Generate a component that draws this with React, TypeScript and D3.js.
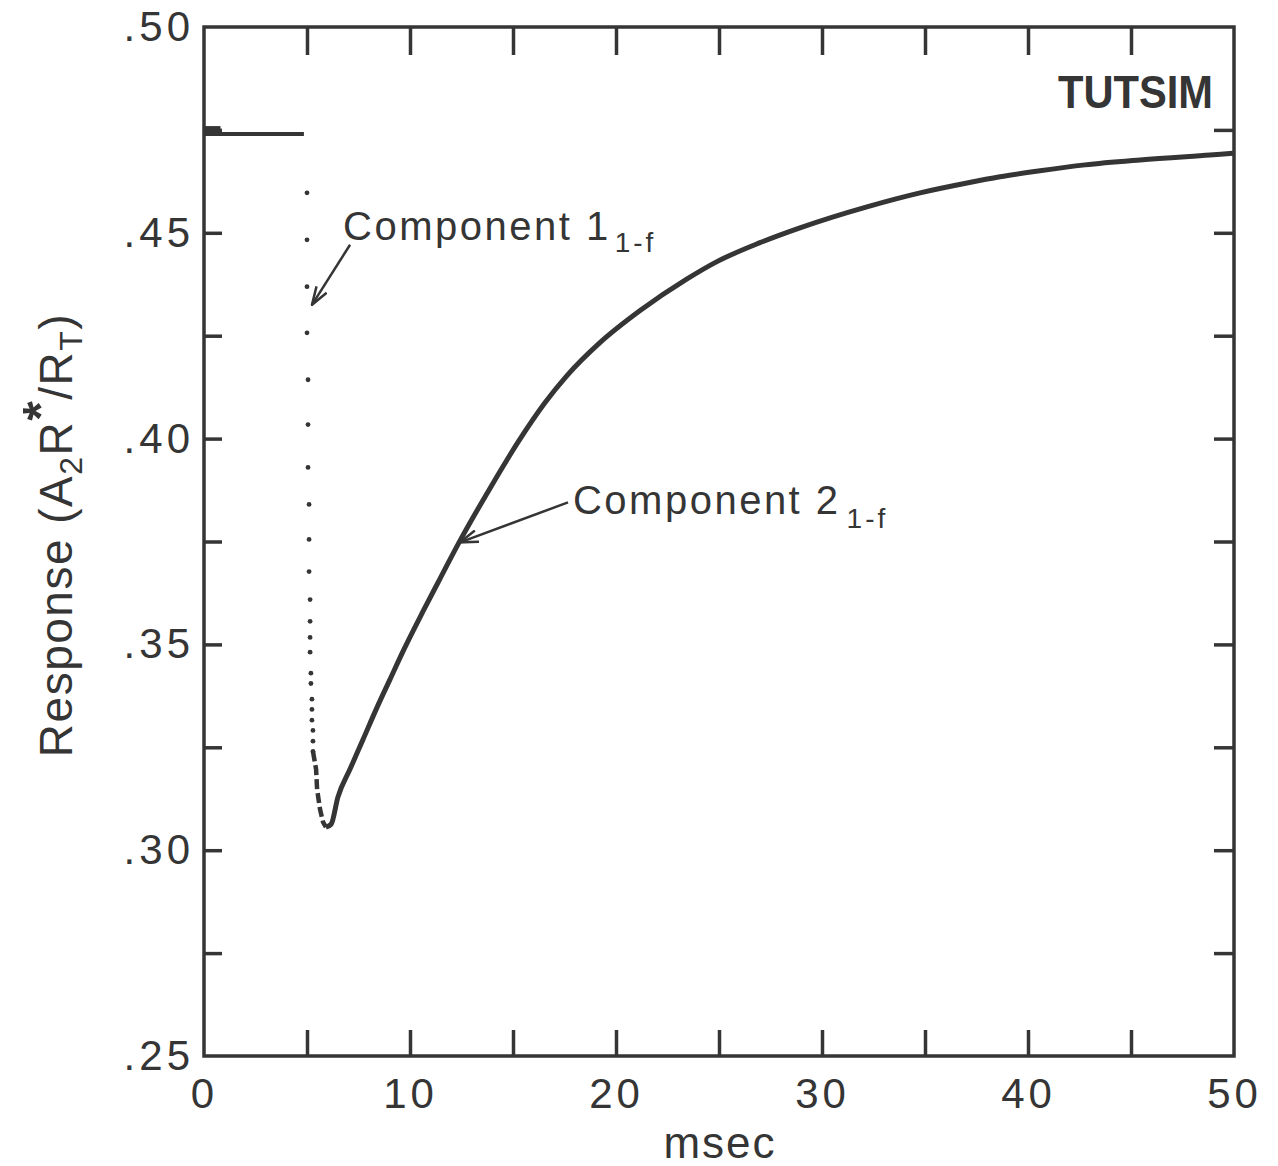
import React, { useEffect, useRef } from "react";
import * as d3 from "d3";

// page-sized chart, frame positioned like the scanned figure
const W = 1278;
const H = 1166;
const margin = { top: 27, right: 44, bottom: 110, left: 204 };

const INK = "#353535";
const FONT = "'Liberation Sans', Arial, sans-serif";

// axis ticks / labels
const xTicks = [5, 10, 15, 20, 25, 30, 35, 40, 45];
const xLabels = [0, 10, 20, 30, 40, 50];
const yTicks = [0.275, 0.3, 0.325, 0.35, 0.375, 0.4, 0.425, 0.45, 0.475];
const yLabels = [0.25, 0.3, 0.35, 0.4, 0.45, 0.5];

// steady state before the pulse
const baseline = [
  { t: 0, v: 0.474 },
  { t: 4.85, v: 0.474 },
];
const startBlip = [
  { t: 0, v: 0.4752 },
  { t: 0.8, v: 0.4752 },
];

// Component 1 (fast drop, plotted as dots)
const dropDots = [
  { t: 5.0, v: 0.4597 },
  { t: 5.0, v: 0.4483 },
  { t: 5.0, v: 0.4369 },
  { t: 5.0, v: 0.4257 },
  { t: 5.05, v: 0.4143 },
  { t: 5.05, v: 0.4034 },
  { t: 5.05, v: 0.393 },
  { t: 5.1, v: 0.384 },
  { t: 5.1, v: 0.3755 },
  { t: 5.1, v: 0.3677 },
  { t: 5.15, v: 0.3609 },
  { t: 5.15, v: 0.3556 },
  { t: 5.15, v: 0.3517 },
  { t: 5.15, v: 0.3481 },
  { t: 5.19, v: 0.343 },
  { t: 5.19, v: 0.3405 },
  { t: 5.24, v: 0.3367 },
  { t: 5.24, v: 0.3342 },
  { t: 5.24, v: 0.3316 },
  { t: 5.29, v: 0.3291 },
  { t: 5.29, v: 0.3265 },
  { t: 5.29, v: 0.324 },
];

// bottom of the dip (dashed)
const dipDashes = [
  { t: 5.29, v: 0.324 },
  { t: 5.44, v: 0.3197 },
  { t: 5.49, v: 0.3148 },
  { t: 5.63, v: 0.31 },
  { t: 5.78, v: 0.3068 },
  { t: 5.92, v: 0.3056 },
];

// Component 2 (slow recovery)
const recovery = [
  { t: 5.92, v: 0.3056 },
  { t: 6.17, v: 0.3063 },
  { t: 6.5, v: 0.3129 },
  { t: 7.09, v: 0.3197 },
  { t: 7.72, v: 0.3269 },
  { t: 8.4, v: 0.3347 },
  { t: 9.03, v: 0.3415 },
  { t: 9.66, v: 0.3483 },
  { t: 10.63, v: 0.358 },
  { t: 11.46, v: 0.366 },
  { t: 12.33, v: 0.3743 },
  { t: 13.88, v: 0.3879 },
  { t: 15.29, v: 0.3995 },
  { t: 16.55, v: 0.4087 },
  { t: 17.62, v: 0.4153 },
  { t: 19.22, v: 0.4233 },
  { t: 21.17, v: 0.4311 },
  { t: 23.45, v: 0.4388 },
  { t: 24.9, v: 0.443 },
  { t: 26.99, v: 0.4476 },
  { t: 28.93, v: 0.4512 },
  { t: 32.18, v: 0.4563 },
  { t: 34.76, v: 0.4597 },
  { t: 37.04, v: 0.4621 },
  { t: 38.64, v: 0.4636 },
  { t: 40.49, v: 0.465 },
  { t: 42.77, v: 0.4665 },
  { t: 45.44, v: 0.4677 },
  { t: 48.83, v: 0.4689 },
  { t: 49.95, v: 0.4693 },
];

const fmtY = (d) => d3.format(".2f")(d).replace(/^0/, "");

function App() {
  const gRef = useRef(null);
  const innerW = W - margin.left - margin.right;
  const innerH = H - margin.top - margin.bottom;

  const x = d3.scaleLinear().domain([0, 50]).range([0, innerW]);
  const y = d3.scaleLinear().domain([0.25, 0.5]).range([innerH, 0]);

  const line = d3
    .line()
    .x((d) => x(d.t))
    .y((d) => y(d.v));
  const smooth = d3
    .line()
    .x((d) => x(d.t))
    .y((d) => y(d.v))
    .curve(d3.curveMonotoneX);

  useEffect(() => {
    const g = d3.select(gRef.current);
    g.selectAll(".ax").remove();

    const style = (sel) => {
      sel.select(".domain").remove();
      sel.selectAll(".tick line").attr("stroke", INK).attr("stroke-width", 3.5);
      sel
        .selectAll("text")
        .attr("fill", INK)
        .attr("font-family", FONT)
        .attr("font-size", 42)
        .attr("letter-spacing", 4);
    };

    // inward ticks on all four sides
    g.append("g").attr("class", "ax")
      .call(d3.axisTop(x).tickValues(xTicks).tickSize(-28).tickFormat(() => ""))
      .call(style);
    g.append("g").attr("class", "ax")
      .attr("transform", `translate(0,${innerH})`)
      .call(d3.axisBottom(x).tickValues(xTicks).tickSize(-26).tickFormat(() => ""))
      .call(style);
    g.append("g").attr("class", "ax")
      .call(d3.axisLeft(y).tickValues(yTicks).tickSize(-18).tickFormat(() => ""))
      .call(style);
    g.append("g").attr("class", "ax")
      .attr("transform", `translate(${innerW},0)`)
      .call(d3.axisRight(y).tickValues(yTicks).tickSize(-20).tickFormat(() => ""))
      .call(style);

    // labels
    g.append("g").attr("class", "ax")
      .attr("transform", `translate(0,${innerH})`)
      .call(d3.axisBottom(x).tickValues(xLabels).tickSize(0).tickPadding(22).tickFormat(d3.format("d")))
      .call(style);
    g.append("g").attr("class", "ax")
      .call(d3.axisLeft(y).tickValues(yLabels).tickSize(0).tickPadding(10).tickFormat(fmtY))
      .call(style);
  }, []);

  return (
    <svg
      width={W}
      height={H}
      style={{ position: "absolute", left: 0, top: 0, background: "#fff" }}
    >
      <defs>
        <marker
          id="arrow"
          viewBox="0 0 20 14"
          refX="19"
          refY="7"
          markerWidth="20"
          markerHeight="14"
          markerUnits="userSpaceOnUse"
          orient="auto"
        >
          <path d="M1,1 L19,7 L1,13" fill="none" stroke={INK} strokeWidth="2.5" />
        </marker>
      </defs>
      <g ref={gRef} transform={`translate(${margin.left},${margin.top})`}>
        <rect
          width={innerW}
          height={innerH}
          fill="none"
          stroke={INK}
          strokeWidth={3.5}
        />

        <path d={line(baseline)} fill="none" stroke={INK} strokeWidth={4} />
        <path d={line(startBlip)} fill="none" stroke={INK} strokeWidth={6} />

        {dropDots.map((d, i) => (
          <circle key={i} cx={x(d.t)} cy={y(d.v)} r={2.4} fill={INK} />
        ))}
        <path
          d={line(dipDashes)}
          fill="none"
          stroke={INK}
          strokeWidth={4.5}
          strokeDasharray="10 4"
        />
        <path d={smooth(recovery)} fill="none" stroke={INK} strokeWidth={5} />

        {/* annotations */}
        <text
          x={x(6.75)}
          y={y(0.4483)}
          fill={INK}
          fontFamily={FONT}
          fontSize={40}
          letterSpacing={2.5}
        >
          Component 1
          <tspan dx={4} dy={12} fontSize={28} letterSpacing={3}>
            1-f
          </tspan>
        </text>
        <line
          x1={x(7.09)}
          y1={y(0.4471)}
          x2={x(5.24)}
          y2={y(0.4325)}
          stroke={INK}
          strokeWidth={2.5}
          markerEnd="url(#arrow)"
        />

        <text
          x={x(17.91)}
          y={y(0.3816)}
          fill={INK}
          fontFamily={FONT}
          fontSize={40}
          letterSpacing={2.5}
        >
          Component 2
          <tspan dx={6} dy={14} fontSize={28} letterSpacing={3}>
            1-f
          </tspan>
        </text>
        <line
          x1={x(17.67)}
          y1={y(0.3845)}
          x2={x(12.43)}
          y2={y(0.3748)}
          stroke={INK}
          strokeWidth={2.5}
          markerEnd="url(#arrow)"
        />

        <text
          x={x(48.98)}
          y={y(0.4803)}
          textAnchor="end"
          fill={INK}
          fontFamily={FONT}
          fontWeight="bold"
          fontSize={46}
          textLength={155}
          lengthAdjust="spacingAndGlyphs"
        >
          TUTSIM
        </text>

        <text
          x={W / 2 - margin.left + 81}
          y={innerH + 102}
          textAnchor="middle"
          fill={INK}
          fontFamily={FONT}
          fontSize={44}
          letterSpacing={2}
        >
          msec
        </text>
      </g>

      <text
        transform="translate(72,535) rotate(-90)"
        textAnchor="middle"
        fill={INK}
        fontFamily={FONT}
        fontSize={46}
        letterSpacing={1.5}
      >
        Response (A
        <tspan dy={10} fontSize={32}>2</tspan>
        <tspan dy={-10}>R</tspan>
        <tspan dy={-14} fontSize={50} fontWeight="bold">*</tspan>
        <tspan dy={14}>/R</tspan>
        <tspan dy={10} fontSize={32}>T</tspan>
        <tspan dy={-10}>)</tspan>
      </text>
    </svg>
  );
}

export default App;
